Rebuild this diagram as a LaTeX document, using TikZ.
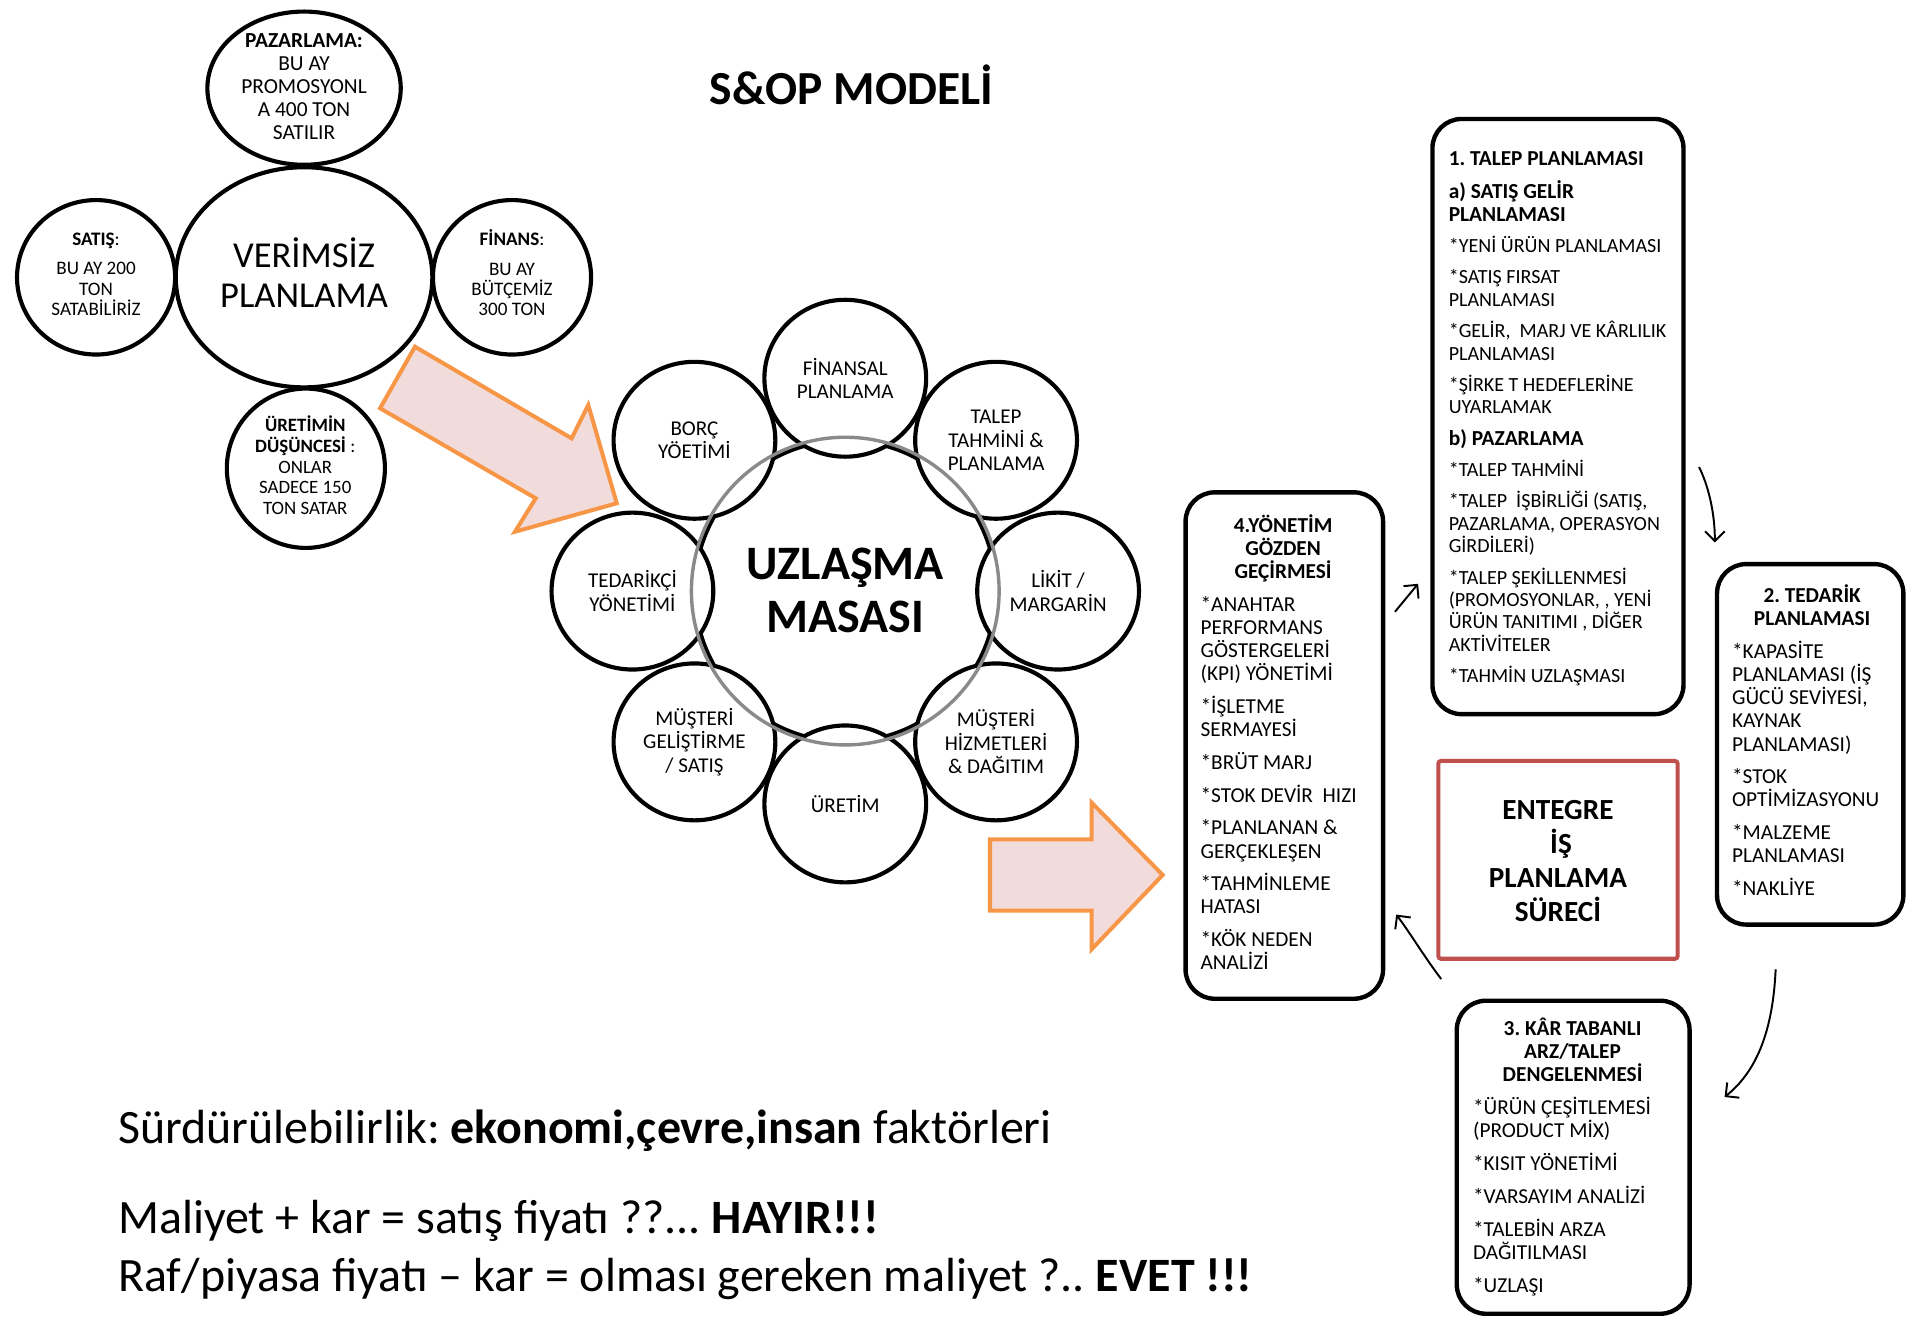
\documentclass[tikz,border=0pt]{standalone}
\usepackage{fontspec}
\setmainfont{Carlito}
\usetikzlibrary{shapes.geometric,arrows.meta}
\definecolor{orangeC}{HTML}{F79646}
\definecolor{pinkC}{HTML}{F2DCDB}
\definecolor{redC}{HTML}{C0504D}
\definecolor{ringC}{HTML}{8A8A8A}
\frenchspacing
\begin{document}
\begin{tikzpicture}[x=1pt,y=-1pt,
  bub/.style={ellipse, draw, line width=3.4pt, fill=white, inner sep=0pt},
  sat/.style={ellipse, draw, line width=3.4pt, fill=white, inner sep=0pt,
    minimum width=133pt, minimum height=129pt, align=center,
    font=\fontsize{17.3}{19.3}\selectfont},
  txt/.style={inner sep=0pt, align=center, anchor=north},
  card/.style={draw, line width=3.6pt, rounded corners=24pt, inner sep=0pt, fill=white},
  bodytext/.style={inner sep=0pt, align=left, anchor=north west,
    font=\fontsize{17.5}{19}\selectfont},
  headtext/.style={inner sep=0pt, align=center, anchor=north,
    font=\bfseries\fontsize{17.5}{19}\selectfont},
  flow/.style={line width=1.6pt, -{Straight Barb[length=8pt,width=16pt]}},
  block/.style={draw=orangeC, fill=pinkC, line width=3.3pt, line join=miter},
  bottomtext/.style={anchor=base west, inner sep=0pt, font=\fontsize{39.4}{47}\selectfont}
]
\useasboundingbox (0,0) rectangle (1568,1085);

% title
\node[anchor=base, inner sep=0pt, font=\bfseries\fontsize{39}{43}\selectfont] (title) at (700,85.6) {S\&OP MODELİ};

% left cluster
\node[bub, minimum width=211pt, minimum height=181pt] (verim) at (250,228) {};
\node[bub, minimum width=159pt, minimum height=126pt] (paz) at (250,72.5) {};
\node[bub, minimum width=130pt, minimum height=127pt] (sat) at (79,228) {};
\node[bub, minimum width=130pt, minimum height=127pt] (fin) at (421,228) {};
\node[bub, minimum width=130pt, minimum height=131pt] (uret) at (251.5,385) {};

\node[txt, font=\fontsize{30}{33}\selectfont] (verimT) at (250,193.7) {\rule{0pt}{26pt}VERİMSİZ\\PLANLAMA};
\node[txt, font=\fontsize{17.6}{19}\selectfont] (pazT) at (250,24.5) {\rule{0pt}{14pt}\textbf{PAZARLAMA:}\\BU AY\\PROMOSYONL\\A 400 TON\\SATILIR};
\node[txt, font=\fontsize{15.7}{16.6}\selectfont] (satT) at (79,188.8) {\rule{0pt}{13pt}\textbf{SATIŞ}:\\[7.4pt]BU AY 200\\TON\\SATABİLİRİZ};
\node[txt, font=\fontsize{15.7}{16.6}\selectfont] (finT) at (421,188.8) {\rule{0pt}{13pt}\textbf{FİNANS}:\\[7.4pt]BU AY\\BÜTÇEMİZ\\300 TON};
\node[txt, font=\fontsize{15.5}{17}\selectfont] (uretT) at (251,341.8) {\rule{0pt}{13pt}\textbf{ÜRETİMİN}\\\textbf{DÜŞÜNCESİ} :\\ONLAR\\SADECE 150\\TON SATAR};

% block arrows
\draw[block] (341.2,285.1) -- (470.0,360.4) -- (483.7,333.0) -- (507.1,413.8) -- (423.4,437.2) -- (440.5,409.7) -- (312.5,335.7) -- cycle;
\draw[block] (814,690.1) -- (897.6,690.1) -- (897.6,660) -- (956,719.4) -- (897.6,780.5) -- (897.6,748.8) -- (814,748.8) -- cycle;

% central cluster
\node[circle, draw, line width=3.4pt, fill=white, minimum size=248pt, inner sep=0pt] (uzl) at (695,486) {};
\node[sat] (s1) at (695,311) {FİNANSAL\\PLANLAMA};
\node[sat] (s2) at (819,362) {TALEP\\TAHMİNİ \&\\PLANLAMA};
\node[sat] (s3) at (870,486) {LİKİT /\\MARGARİN};
\node[sat] (s4) at (819,610) {MÜŞTERİ\\HİZMETLERİ\\\& DAĞITIM};
\node[sat] (s5) at (695,661) {ÜRETİM};
\node[sat] (s6) at (571,610) {MÜŞTERİ\\GELİŞTİRME\\/ SATIŞ};
\node[sat] (s7) at (520,486) {TEDARİKÇİ\\YÖNETİMİ};
\node[sat] (s8) at (571,362) {BORÇ\\YÖETİMİ};
\node[circle, draw=ringC, line width=2.8pt, minimum size=253pt, inner sep=0pt] (ring) at (695,486) {};
\node[txt, font=\bfseries\fontsize{39.5}{43}\selectfont] (uzlT) at (695,446.6) {\rule{0pt}{30pt}UZLAŞMA\\MASASI};

% right side boxes
\node[card, minimum width=206.4pt, minimum height=489.4pt] (b1) at (1281,342.5) {};
\node[card, minimum width=162.4pt, minimum height=416.4pt] (b4) at (1056,613) {};
\node[card, minimum width=153.2pt, minimum height=296.4pt] (b2) at (1488.4,612) {};
\node[card, minimum width=191.4pt, minimum height=257.4pt] (b3) at (1293.5,951.5) {};
\node[draw=redC, line width=3.3pt, rounded corners=2pt, minimum width=196.6pt, minimum height=162.6pt, inner sep=0pt] (ent) at (1281,707) {};

\node[txt, font=\bfseries\fontsize{24}{28}\selectfont] (entT) at (1281,654.6) {\rule{0pt}{19pt}ENTEGRE\\\hspace*{5pt}İŞ\\PLANLAMA\\SÜRECİ};

% box 1 text
\node[bodytext, font=\fontsize{16.5}{18.4}\selectfont] (b1T) at (1191,121.2) {\rule{0pt}{15pt}{\bfseries\fontsize{17.5}{18.4}\selectfont 1. TALEP PLANLAMASI}\\[8.6pt]
{\bfseries\fontsize{17.6}{18.4}\selectfont a) SATIŞ GELİR}\\
{\bfseries\fontsize{17.6}{18.4}\selectfont PLANLAMASI}\\[7.4pt]
*YENİ ÜRÜN PLANLAMASI\\[7.4pt]
*SATIŞ FIRSAT\\
PLANLAMASI\\[7.4pt]
*GELİR,\ \ MARJ VE KÂRLILIK\\
PLANLAMASI\\[7.4pt]
*ŞİRKE T HEDEFLERİNE\\
UYARLAMAK\\[7.4pt]
{\bfseries\fontsize{17.6}{18.4}\selectfont b) PAZARLAMA}\\[7.4pt]
*TALEP TAHMİNİ\\[7.4pt]
*TALEP\ \ İŞBİRLİĞİ (SATIŞ,\\
PAZARLAMA, OPERASYON\\
GİRDİLERİ)\\[7.4pt]
*TALEP ŞEKİLLENMESİ\\
(PROMOSYONLAR, , YENİ\\
ÜRÜN TANITIMI , DİĞER\\
AKTİVİTELER\\[7.4pt]
*TAHMİN UZLAŞMASI};

% box 4 text
\node[headtext] (b4H) at (1055,422.3) {\rule{0pt}{15pt}4.YÖNETİM\\GÖZDEN\\GEÇİRMESİ};
\node[bodytext] (b4T) at (987,487.3) {\rule{0pt}{15pt}*ANAHTAR\\PERFORMANS\\GÖSTERGELERİ\\(KPI) YÖNETİMİ\\[8pt]
*İŞLETME\\SERMAYESİ\\[8pt]
*BRÜT MARJ\\[8pt]
*STOK DEVİR\ \ HIZI\\[8pt]
*PLANLANAN \&\\GERÇEKLEŞEN\\[8pt]
*TAHMİNLEME\\HATASI\\[8pt]
*KÖK NEDEN\\ANALİZİ};

% box 2 text
\node[headtext] (b2H) at (1490,480.3) {\rule{0pt}{15pt}2. TEDARİK\\PLANLAMASI};
\node[bodytext] (b2T) at (1424,526.3) {\rule{0pt}{15pt}*KAPASİTE\\PLANLAMASI (İŞ\\GÜCÜ SEVİYESİ,\\KAYNAK\\PLANLAMASI)\\[8pt]
*STOK\\OPTİMİZASYONU\\[8pt]
*MALZEME\\PLANLAMASI\\[8pt]
*NAKLİYE};

% box 3 text
\node[headtext] (b3H) at (1293,836.3) {\rule{0pt}{15pt}3. KÂR TABANLI\\ARZ/TALEP\\DENGELENMESİ};
\node[bodytext] (b3T) at (1211,901.3) {\rule{0pt}{15pt}*ÜRÜN ÇEŞİTLEMESİ\\(PRODUCT MİX)\\[8pt]
*KISIT YÖNETİMİ\\[8pt]
*VARSAYIM ANALİZİ\\[8pt]
*TALEBİN ARZA\\DAĞITILMASI\\[8pt]
*UZLAŞI};

% thin arrows
\coordinate (a1s) at (1397,384);
\coordinate (a1e) at (1410,446);
\draw[flow] (a1s) .. controls (1404,398) and (1410,420) .. (a1e);
\coordinate (a2s) at (1460,797);
\coordinate (a2e) at (1418,902);
\draw[flow] (a2s) .. controls (1458,840) and (1448,878) .. (a2e);
\coordinate (a3s) at (1185,805);
\coordinate (a3e) at (1148,752);
\draw[flow] (a3s) .. controls (1172,788) and (1158,765) .. (a3e);
\coordinate (a4s) at (1147,503);
\coordinate (a4e) at (1166,480);
\draw[flow] (a4s) -- (a4e);

% bottom text
\node[bottomtext] (sus) at (97,940) {Sürdürülebilirlik: \textbf{ekonomi,çevre,insan} faktörleri};
\node[bottomtext] (mal) at (97,1014) {Maliyet + kar = satış fiyatı ??... \textbf{HAYIR!!!}};
\node[bottomtext] (raf) at (97,1062) {Raf/piyasa fiyatı – kar = olması gereken maliyet ?.. \textbf{EVET !!!}};
\end{tikzpicture}
\end{document}
